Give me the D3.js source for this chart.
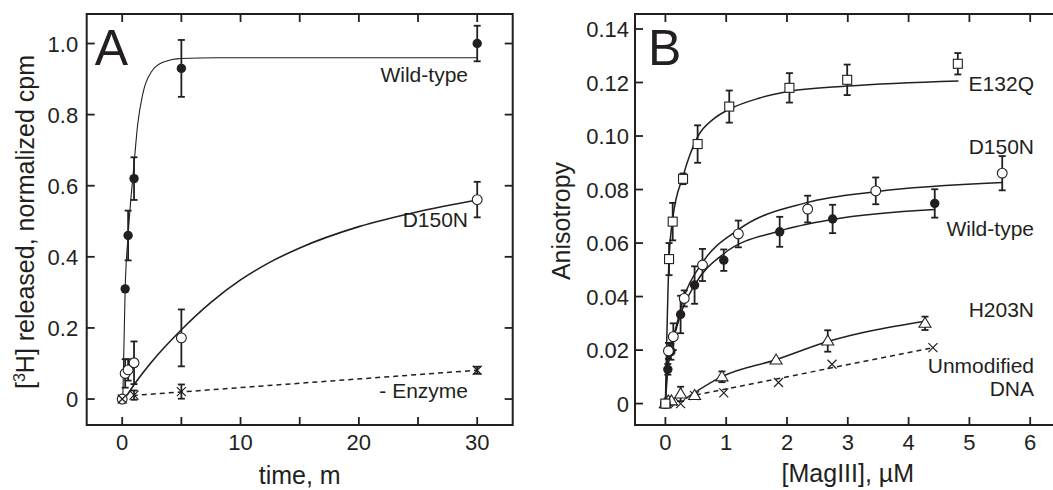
<!DOCTYPE html>
<html>
<head>
<meta charset="utf-8">
<script src="https://cdn.jsdelivr.net/npm/d3@7"></script>
<style>
  body { margin: 0; background: #fff; }
  svg { display: block; font-family: "Liberation Sans", Arial, Helvetica, sans-serif; }
  text { fill: #231f20; }
</style>
</head>
<body>
<script>
// ---------- panel A : [3H] release vs time ----------
const timeTicks = [0, 5, 10, 15, 20, 25, 30];
const timeTickLabels = ["0", "", "10", "", "20", "", "30"];
const releaseTicks = [0, 0.2, 0.4, 0.6, 0.8, 1.0];
const releaseTickLabels = ["0", "0.2", "0.4", "0.6", "0.8", "1.0"];

const wtTime = [0.25, 0.5, 1, 5, 30];
const wtRelease = [0.31, 0.46, 0.62, 0.93, 1.0];
const wtReleaseErr = [0, 0.07, 0.06, 0.08, 0.05];

const d150nTime = [0, 0.25, 0.5, 1, 5, 30];
const d150nRelease = [0, 0.072, 0.082, 0.102, 0.172, 0.561];
const d150nReleaseErr = [0, 0.04, 0.03, 0.06, 0.08, 0.05];

const noEnzTime = [0, 1, 5, 30];
const noEnzRelease = [0, 0.011, 0.021, 0.081];
const noEnzReleaseErr = [0, 0.013, 0.02, 0.01];

// fitted curves, sampled off the figure
const wtFitTime = [0.05, 0.25, 0.5, 1.0, 1.3, 1.75, 2.5, 3.5, 5, 8, 30];
const wtFitRelease = [0.0, 0.31, 0.46, 0.66, 0.77, 0.86, 0.922, 0.948, 0.958, 0.96, 0.96];
const d150nFitTime = [0.4, 1, 2.5, 5, 7.5, 10, 12.5, 15, 20, 25, 30];
const d150nFitRelease = [0.01, 0.04, 0.105, 0.195, 0.272, 0.335, 0.385, 0.425, 0.485, 0.527, 0.56];
const noEnzFitTime = [0.9, 30];
const noEnzFitRelease = [0.01, 0.081];

// ---------- panel B : anisotropy vs [MagIII] ----------
const magTicks = [0, 1, 2, 3, 4, 5, 6];
const anisoTicks = [0, 0.02, 0.04, 0.06, 0.08, 0.10, 0.12, 0.14];
const anisoTickLabels = ["0", "0.02", "0.04", "0.06", "0.08", "0.10", "0.12", "0.14"];

const e132qConc = [0, 0.06, 0.12, 0.29, 0.53, 1.05, 2.04, 2.99, 4.81];
const e132qAniso = [0, 0.054, 0.068, 0.084, 0.097, 0.111, 0.118, 0.121, 0.127];
const e132qErr = [0, 0.006, 0.007, 0.002, 0.007, 0.006, 0.0055, 0.0057, 0.004];

const d150nConc = [0, 0.05, 0.13, 0.31, 0.61, 1.2, 2.34, 3.46, 5.54];
const d150nAniso = [0, 0.0197, 0.025, 0.0393, 0.0518, 0.0634, 0.0727, 0.0795, 0.0861];
const d150nErr = [0, 0.003, 0.005, 0.003, 0.006, 0.005, 0.005, 0.005, 0.0064];

const wtConc = [0, 0.04, 0.09, 0.25, 0.48, 0.96, 1.88, 2.75, 4.43];
const wtAniso = [0, 0.0128, 0.0194, 0.0333, 0.0443, 0.0536, 0.0642, 0.069, 0.0748];
const wtErr = [0, 0.002, 0.003, 0.007, 0.007, 0.004, 0.0056, 0.0053, 0.0053];

const h203nConc = [0, 0.05, 0.1, 0.25, 0.48, 0.93, 1.82, 2.67, 4.27];
const h203nAniso = [0, 0.001, 0.001, 0.0036, 0.003, 0.01, 0.0163, 0.0234, 0.030];
const h203nErr = [0, 0, 0, 0.0027, 0, 0.002, 0, 0.004, 0.0025];

const dnaConc = [0, 0.05, 0.12, 0.25, 0.48, 0.96, 1.86, 2.74, 4.40];
const dnaAniso = [0, 0.0005, 0.001, 0.0, 0.003, 0.004, 0.0079, 0.0147, 0.0209];

const e132qFitConc = [0, 0.06, 0.12, 0.29, 0.53, 0.8, 1.05, 1.55, 2.04, 3.0, 4.82];
const e132qFitAniso = [0, 0.054, 0.069, 0.085, 0.0997, 0.1065, 0.110, 0.1142, 0.1167, 0.1187, 0.1206];
const d150nFitConc = [0, 0.05, 0.13, 0.31, 0.61, 1.2, 2.34, 3.46, 5.54];
const d150nFitAniso = [0, 0.0197, 0.025, 0.0401, 0.0527, 0.065, 0.0752, 0.0792, 0.0826];
const wtFitConc = [0, 0.04, 0.09, 0.25, 0.48, 0.96, 1.88, 2.75, 4.43];
const wtFitAniso = [0, 0.0128, 0.0194, 0.0333, 0.0443, 0.056, 0.0645, 0.0688, 0.0725];
const h203nFitConc = [0.33, 0.93, 1.82, 2.67, 4.27];
const h203nFitAniso = [0.0019, 0.0101, 0.0164, 0.0232, 0.0308];
const dnaFitConc = [0.5, 4.4];
const dnaFitAniso = [0.0032, 0.0209];

const INK = "#231f20";

const svg = d3.select("body").append("svg")
  .attr("width", 1053)
  .attr("height", 490);

function zip(xs, ys, es) {
  return xs.map((x, i) => ({ x: x, y: ys[i], e: es ? es[i] : 0 }));
}

// frame + inward ticks
function drawFrame(p) {
  const g = svg.append("g");
  const [x0, x1] = p.x.range();
  const [y0, y1] = p.y.range(); // y0 bottom, y1 top
  const tick = 8;

  g.append("path")
    .attr("d", p.closed
      ? `M${x0},${y1}H${x1}V${y0}H${x0}Z`
      : `M${x1},${y1}H${x0}V${y0}H${x1}`)
    .attr("fill", "none")
    .attr("stroke", INK)
    .attr("stroke-width", 2);

  p.xTicks.forEach((t) => {
    g.append("line").attr("x1", p.x(t)).attr("x2", p.x(t))
      .attr("y1", y0).attr("y2", y0 - tick)
      .attr("stroke", INK).attr("stroke-width", 1.8);
    g.append("line").attr("x1", p.x(t)).attr("x2", p.x(t))
      .attr("y1", y1).attr("y2", y1 + tick)
      .attr("stroke", INK).attr("stroke-width", 1.8);
  });
  p.yTicks.forEach((t) => {
    g.append("line").attr("x1", x0).attr("x2", x0 + tick)
      .attr("y1", p.y(t)).attr("y2", p.y(t))
      .attr("stroke", INK).attr("stroke-width", 1.8);
    if (p.closed) {
      g.append("line").attr("x1", x1).attr("x2", x1 - tick)
        .attr("y1", p.y(t)).attr("y2", p.y(t))
        .attr("stroke", INK).attr("stroke-width", 1.8);
    }
  });

  g.selectAll(".xl")
    .data(p.xTicks)
    .enter()
    .append("text")
    .attr("x", (d) => p.x(d))
    .attr("y", 450)
    .attr("text-anchor", "middle")
    .attr("font-size", 22)
    .text((d, i) => p.xLabels[i]);

  g.selectAll(".yl")
    .data(p.yTicks)
    .enter()
    .append("text")
    .attr("x", x0 - p.yLabelGap)
    .attr("y", (d) => p.y(d) + 8)
    .attr("text-anchor", "end")
    .attr("font-size", 22)
    .text((d, i) => p.yLabels[i]);

  g.append("text")
    .attr("x", x0 + p.letterDx)
    .attr("y", 65)
    .attr("font-size", 50)
    .text(p.letter);
  return g;
}

function drawCurve(p, xs, ys, dashed, width) {
  const line = d3.line()
    .x((d) => p.x(d.x))
    .y((d) => p.y(d.y))
    .curve(d3.curveMonotoneX);
  svg.append("path")
    .datum(zip(xs, ys))
    .attr("d", line)
    .attr("fill", "none")
    .attr("stroke", INK)
    .attr("stroke-width", width || 1.5)
    .attr("stroke-dasharray", dashed ? "5,4" : null);
}

function drawErrors(p, pts) {
  const g = svg.append("g").attr("stroke", INK).attr("stroke-width", 1.8);
  pts.filter((d) => d.e > 0).forEach((d) => {
    const cx = p.x(d.x), top = p.y(d.y + d.e), bot = p.y(d.y - d.e);
    g.append("line").attr("x1", cx).attr("x2", cx).attr("y1", top).attr("y2", bot);
    g.append("line").attr("x1", cx - 3.5).attr("x2", cx + 3.5).attr("y1", top).attr("y2", top);
    g.append("line").attr("x1", cx - 3.5).attr("x2", cx + 3.5).attr("y1", bot).attr("y2", bot);
  });
}

function drawMarkers(p, pts, shape) {
  const g = svg.append("g");
  pts.forEach((d) => {
    const cx = p.x(d.x), cy = p.y(d.y);
    if (shape === "filled") {
      g.append("circle").attr("cx", cx).attr("cy", cy).attr("r", 4.7).attr("fill", INK);
    } else if (shape === "open") {
      g.append("circle").attr("cx", cx).attr("cy", cy).attr("r", 4.9)
        .attr("fill", "#fff").attr("stroke", INK).attr("stroke-width", 1.1);
    } else if (shape === "square") {
      g.append("rect").attr("x", cx - 4.5).attr("y", cy - 4.5)
        .attr("width", 9).attr("height", 9)
        .attr("fill", "#fff").attr("stroke", INK).attr("stroke-width", 1.1);
    } else if (shape === "triangle") {
      g.append("path")
        .attr("d", `M${cx},${cy - 6}L${cx + 6},${cy + 4}L${cx - 6},${cy + 4}Z`)
        .attr("fill", "#fff").attr("stroke", INK).attr("stroke-width", 1.1);
    } else {
      const s = 4.5;
      g.append("path")
        .attr("d", `M${cx - s},${cy - s}L${cx + s},${cy + s}M${cx - s},${cy + s}L${cx + s},${cy - s}`)
        .attr("stroke", INK).attr("stroke-width", 1.2);
    }
  });
}

function label(x, y, txt) {
  svg.append("text")
    .attr("x", x).attr("y", y)
    .attr("text-anchor", "end")
    .attr("font-size", 21)
    .text(txt);
}

// ----- panel A -----
const pA = {
  x: d3.scaleLinear().domain([-3, 33]).range([86.7, 512.7]),
  y: d3.scaleLinear().domain([-0.073, 1.083]).range([425, 14]),
  xTicks: timeTicks, xLabels: timeTickLabels,
  yTicks: releaseTicks, yLabels: releaseTickLabels,
  yLabelGap: 8.5, closed: true, letter: "A", letterDx: 8
};
drawFrame(pA);

drawCurve(pA, wtFitTime, wtFitRelease, false, 1.1);
drawCurve(pA, d150nFitTime, d150nFitRelease, false, 1.6);
drawCurve(pA, noEnzFitTime, noEnzFitRelease, true, 1.5);

const wtA = zip(wtTime, wtRelease, wtReleaseErr);
const d150nA = zip(d150nTime, d150nRelease, d150nReleaseErr);
const noEnzA = zip(noEnzTime, noEnzRelease, noEnzReleaseErr);
drawErrors(pA, wtA);
drawErrors(pA, d150nA);
drawErrors(pA, noEnzA);
drawMarkers(pA, d150nA, "open");
drawMarkers(pA, wtA, "filled");
drawMarkers(pA, noEnzA, "x");

label(468, 82, "Wild-type");
label(468, 227, "D150N");
label(468, 398, "- Enzyme");

svg.append("text")
  .attr("x", pA.x(15))
  .attr("y", 484)
  .attr("text-anchor", "middle")
  .attr("font-size", 25)
  .text("time, m");

const yTitleA = svg.append("text")
  .attr("transform", "translate(34,222) rotate(-90)")
  .attr("text-anchor", "middle")
  .attr("font-size", 25);
yTitleA.append("tspan").text("[");
yTitleA.append("tspan").attr("font-size", 16).attr("dy", -9).text("3");
yTitleA.append("tspan").attr("dy", 9).text("H] released, normalized cpm");

// ----- panel B -----
const pB = {
  x: d3.scaleLinear().domain([-0.5, 6.5]).range([635, 1060.6]),
  y: d3.scaleLinear().domain([-0.008, 0.1456]).range([425, 14]),
  xTicks: magTicks, xLabels: magTicks.map(String),
  yTicks: anisoTicks, yLabels: anisoTickLabels,
  yLabelGap: 6, closed: false, letter: "B", letterDx: 13
};
drawFrame(pB);

drawCurve(pB, e132qFitConc, e132qFitAniso, false, 1.5);
drawCurve(pB, d150nFitConc, d150nFitAniso, false, 1.5);
drawCurve(pB, wtFitConc, wtFitAniso, false, 1.5);
drawCurve(pB, h203nFitConc, h203nFitAniso, false, 1.5);
drawCurve(pB, dnaFitConc, dnaFitAniso, true, 1.5);

const e132qB = zip(e132qConc, e132qAniso, e132qErr);
const d150nB = zip(d150nConc, d150nAniso, d150nErr);
const wtB = zip(wtConc, wtAniso, wtErr);
const h203nB = zip(h203nConc, h203nAniso, h203nErr);
const dnaB = zip(dnaConc, dnaAniso);
[e132qB, d150nB, wtB, h203nB].forEach((s) => drawErrors(pB, s));
drawMarkers(pB, dnaB, "x");
drawMarkers(pB, h203nB, "triangle");
drawMarkers(pB, wtB, "filled");
drawMarkers(pB, d150nB, "open");
drawMarkers(pB, e132qB, "square");

label(1034, 91, "E132Q");
label(1034, 154, "D150N");
label(1034, 236, "Wild-type");
label(1034, 317, "H203N");
label(1034, 373, "Unmodified");
label(1034, 396, "DNA");

svg.append("text")
  .attr("x", pB.x(3))
  .attr("y", 482)
  .attr("text-anchor", "middle")
  .attr("font-size", 25)
  .text("[MagIII], µM");

svg.append("text")
  .attr("transform", "translate(570,221) rotate(-90)")
  .attr("text-anchor", "middle")
  .attr("font-size", 25)
  .text("Anisotropy");
</script>
</body>
</html>
